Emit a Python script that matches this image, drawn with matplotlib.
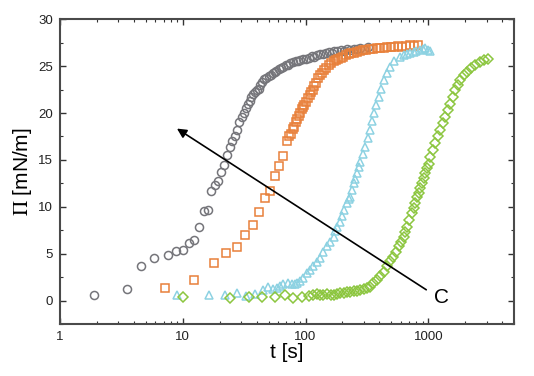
# coding=utf-8
import matplotlib
matplotlib.use('Agg')
import matplotlib.pyplot as plt
from matplotlib.ticker import LogLocator, MultipleLocator, FixedLocator

# gray circles
t_gray = [1.9, 3.5, 4.6, 5.8, 7.6, 8.9, 10.0, 11.2, 12.4, 13.7, 14.8, 16.1, 17.1, 18.3,
          19.5, 20.5, 21.8, 23.0, 24.2, 25.4, 26.6, 27.8, 29.0, 30.2, 31.4, 32.6, 33.8,
          35.0, 36.2, 37.4, 38.6, 40.0, 41.5, 43.0, 44.5, 46.0, 48.0, 50.0, 52.0, 54.0,
          56.0, 58.0, 60.5, 63.0, 66.0, 69.0, 72.0, 75.0, 79.0, 83.0, 87.0, 91.0, 96.0,
          101, 106, 112, 118, 124, 131, 138, 146, 154, 163, 172, 182, 193, 205, 218,
          232, 247, 263, 280, 300, 320]
pi_gray = [0.6, 1.2, 3.7, 4.55, 4.85, 5.3, 5.4, 6.1, 6.5, 7.9, 9.6, 9.7, 11.7, 12.3,
           12.8, 13.7, 14.5, 15.5, 16.4, 17.0, 17.6, 18.2, 19.0, 19.6, 20.0, 20.5, 21.0,
           21.3, 21.7, 22.0, 22.2, 22.5, 22.6, 23.0, 23.3, 23.6, 23.7, 23.9, 24.1, 24.3,
           24.4, 24.5, 24.7, 24.8, 24.9, 25.1, 25.1, 25.3, 25.4, 25.5, 25.5, 25.7, 25.8,
           25.8, 25.9, 26.1, 26.0, 26.2, 26.3, 26.3, 26.4, 26.5, 26.4, 26.6, 26.6, 26.7,
           26.6, 26.8, 26.7, 26.8, 26.8, 26.9, 26.8, 27.0]

# orange squares
t_orange = [7.2, 12.4, 18.0, 22.5, 27.5, 32.4, 37.2, 42.1, 46.9, 51.4, 56.5, 60.9, 66.1,
            70.4, 73.5, 76.3, 79, 81.2, 84, 86, 88, 90.4, 93, 95, 98, 101, 104, 108, 111,
            115, 118, 122, 127, 131, 136, 142, 148, 155, 162, 169, 177, 185, 194, 203,
            213, 224, 236, 249, 263, 278, 295, 313, 333, 355, 380, 405, 432, 462, 495,
            530, 568, 610, 655, 705, 760, 830]
pi_orange = [1.4, 2.2, 4.0, 5.1, 5.7, 7.0, 8.1, 9.4, 10.9, 11.7, 13.3, 14.4, 15.4,
             17.0, 17.5, 17.8, 18.3, 18.5, 19.0, 19.4, 19.7, 20.0, 20.4, 20.6, 20.9, 21.2,
             21.6, 21.9, 22.2, 22.5, 22.9, 23.2, 23.7, 24.1, 24.3, 24.6, 24.8, 25.1, 25.3,
             25.5, 25.6, 25.8, 25.9, 26.0, 26.2, 26.3, 26.4, 26.4, 26.5, 26.6, 26.7, 26.7,
             26.8, 26.8, 26.9, 26.9, 26.9, 27.0, 27.0, 27.0, 27.1, 27.0, 27.1, 27.2, 27.1,
             27.2]

# light blue triangles
t_blue = [9.0, 16.4, 22.0, 27.5, 33.0, 38.8, 45.4, 49.9, 54, 58.3, 62, 66, 72.6, 77, 82,
          86, 90, 96, 102, 109, 116, 123, 131, 140, 149, 159, 169, 175, 182, 190, 198,
          207, 217, 224, 231, 238, 246, 254, 262, 270, 279, 292, 306, 320, 336, 348, 362,
          377, 393, 412, 432, 460, 489, 530, 590, 630, 670, 710, 757, 800, 850, 900, 943,
          990, 1040]
pi_blue = [0.55, 0.65, 0.65, 0.8, 0.5, 0.75, 1.1, 1.5, 1.2, 1.35, 1.6, 1.8, 1.9, 1.75,
           1.8, 1.9, 2.05, 2.4, 2.9, 3.3, 3.65, 4.1, 4.5, 5.2, 5.8, 6.3, 6.8, 7.4, 7.9, 8.4,
           9.0, 9.7, 10.4, 10.8, 11.1, 11.8, 12.5, 13.0, 13.6, 14.2, 14.8, 15.6, 16.4,
           17.3, 18.2, 19.1, 20.0, 20.9, 21.7, 22.6, 23.5, 24.3, 24.9, 25.5, 26.0, 26.2,
           26.3, 26.4, 26.5, 26.6, 26.7, 26.8, 26.9, 26.7, 26.6]

# green diamonds
t_green = [10.0, 24.3, 34.7, 44.5, 56.5, 68.2, 79.7, 93.3, 106, 115, 124, 132, 140, 150,
           160, 169, 180, 191, 204, 217, 231, 246, 262, 280, 297, 316, 336, 357, 380, 405,
           432, 460, 490, 520, 545, 572, 600, 628, 648, 669, 700, 735, 758, 782, 806, 832,
           860, 887, 915, 943, 973, 1004, 1036, 1087, 1138, 1193, 1250, 1310, 1374, 1440,
           1508, 1580, 1657, 1740, 1820, 1940, 2064, 2230, 2412, 2610, 2818, 3040]
pi_green = [0.36, 0.3, 0.36, 0.36, 0.36, 0.55, 0.3, 0.4, 0.45, 0.6, 0.75, 0.6, 0.65, 0.7,
            0.55, 0.65, 0.75, 0.8, 0.85, 0.9, 0.95, 1.0, 1.05, 1.15, 1.25, 1.35, 1.45, 1.9,
            2.2, 2.6, 3.1, 3.65, 4.2, 4.7, 5.2, 5.8, 6.3, 6.8, 7.3, 7.9, 8.6, 9.3, 9.9, 10.4,
            11.0, 11.5, 12.0, 12.5, 13.1, 13.6, 14.1, 14.6, 15.35, 16.1, 16.8, 17.5, 18.2,
            18.9, 19.6, 20.3, 21.0, 21.7, 22.4, 23.0, 23.5, 24.0, 24.4, 24.8, 25.1, 25.4,
            25.7, 25.8]

plt.rcParams['font.family'] = ['Liberation Sans', 'DejaVu Sans']
plt.rcParams['mathtext.fontset'] = 'stix'

fig = plt.figure(figsize=(5.34, 3.76), dpi=100)
ax = fig.add_axes([0.112, 0.138, 0.851, 0.811])

mk = dict(linestyle='none', markeredgewidth=1.1, markerfacecolor='none')
ax.plot(t_gray, pi_gray, marker='o', markersize=5.8, markeredgecolor='#75757a', **mk)
ax.plot(t_orange, pi_orange, marker='s', markersize=5.4, markeredgecolor='#e8803a', **mk)
ax.plot(t_blue, pi_blue, marker='^', markersize=6.2, markeredgecolor='#8dd2e2', **mk)
ax.plot(t_green, pi_green, marker='D', markersize=5.0, markeredgecolor='#8cc63f', **mk)

ax.set_xscale('log')
ax.set_xlim(1, 5000)
ax.set_ylim(-2.5, 30)
ax.xaxis.set_major_locator(FixedLocator([1, 10, 100, 1000]))
ax.xaxis.set_minor_locator(LogLocator(base=10, subs=range(2, 10)))
ax.xaxis.set_major_formatter(matplotlib.ticker.FuncFormatter(lambda v, p: '%d' % v))
ax.yaxis.set_major_locator(MultipleLocator(5))
ax.yaxis.set_minor_locator(MultipleLocator(2.5))

for s in ax.spines.values():
    s.set_color('#4a4a4a')
    s.set_linewidth(1.5)
ax.tick_params(which='both', direction='in', top=True, right=True, color='#333333',
               labelsize=9.5, labelcolor='#222222')
ax.tick_params(which='major', length=4.5, width=1.0, pad=5)
ax.tick_params(which='minor', length=2.5, width=0.8)

ax.set_xlabel('t [s]', fontsize=15, labelpad=0)
ax.set_ylabel(r'$\mathrm{\Pi}$ [mN/m]', fontsize=15, labelpad=3)

# arrow pointing from C toward the faster curves
ax.annotate('', xy=(8.6, 18.5), xytext=(1004, 1.0),
            arrowprops=dict(arrowstyle='-|>', color='black', lw=1.2, mutation_scale=14))
ax.text(1290, 0.3, 'C', fontsize=15, ha='center', va='center')

fig.savefig('out.png', dpi=100)
